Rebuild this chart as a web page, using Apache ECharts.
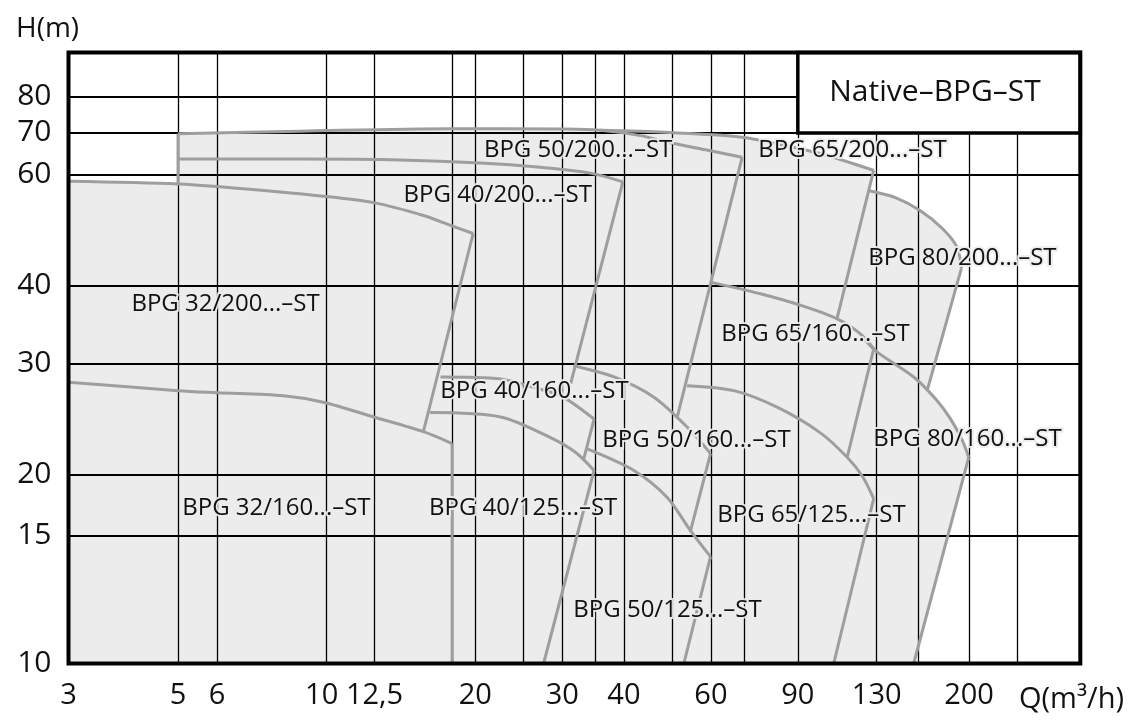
<!DOCTYPE html>
<html lang="de">
<head>
<meta charset="UTF-8">
<title>Native–BPG–ST</title>
<style>
  html, body { margin: 0; background: #fff; }
  #chart { width: 1129px; height: 721px; }
</style>
</head>
<body>
<div id="chart"></div>
<script src="https://cdn.jsdelivr.net/npm/echarts@6/dist/echarts.min.js"></script>
<script>
// both axes are logarithmic: Q in m3/h, H in m
var Q_MIN = 3, Q_MAX = 336, H_MIN = 10, H_MAX = 94;

var xGridValues = [5, 6, 10, 12.5, 18, 20, 25, 30, 35, 40, 50, 60, 70, 90, 130, 158, 200, 250];
var xLabelValues = [3, 5, 6, 10, 12.5, 20, 30, 40, 60, 90, 130, 200];
// the sheet draws its "15" line where 16 m falls on the log scale
var yGridValues = [16, 20, 30, 40, 60, 70, 80];
var yLabelValues = [10, 16, 20, 30, 40, 60, 70, 80];
var yLabelText = { 16: '15' };

// curve outlines [Q, H]
var bpg32_200Top = [[3, 58.6], [5, 58.05], [6, 57.5], [9.84, 55.5], [12.46, 54.2], [15.7, 51.7], [17.9, 49.8], [19.8, 48.4]];
var bpg32_200Right = [[19.8, 48.4], [15.7, 23.4]];
var bpg32_160Top = [[3, 28.05], [5, 27.2], [6, 27.0], [8.18, 26.7], [9.84, 26.07], [12.46, 24.7], [15.7, 23.4], [17.95, 22.4]];
var bpg32_160Right = [[17.95, 22.4], [17.95, 10]];
var bpgQ5Left = [[5, 69.8], [5, 58.05]];
var bpg40_200Top = [[5, 63.6], [8.85, 63.6], [14.1, 63.4], [20.5, 62.7], [27.1, 61.7], [34.2, 60.4], [39.8, 58.5]];
var bpg40_200Right = [[39.8, 58.5], [31.2, 27.9]];
var bpg40_160Top = [[17.0, 28.6], [22.5, 28.4], [25.9, 27.6], [29.75, 26.7], [34.8, 24.5]];
var bpg40_160Right = [[34.8, 24.5], [33.1, 21.05]];
var bpg40_125Top = [[16.2, 25.1], [22.5, 24.7], [28.4, 22.9], [31.9, 21.7], [34.8, 20.3]];
var bpg40_125Right = [[34.8, 20.3], [27.5, 10]];
var bpg50_200Top = [[5, 69.8], [8.85, 70.45], [17.8, 71.1], [29.75, 71.0], [35.8, 70.7], [43.2, 69.3], [49.7, 67.5], [58.5, 65.8], [69.4, 64.0]];
var bpg50_200Right = [[69.4, 64.0], [51.3, 24.7]];
var bpg50_160Top = [[31.6, 29.8], [38.2, 28.6], [46.0, 26.55], [53.7, 23.8], [59.9, 21.6]];
var bpg50_160Right = [[59.9, 21.6], [54.5, 16.2]];
var bpg50_125Top = [[33.7, 21.97], [41.9, 20.3], [48.9, 18.4], [54.5, 16.3], [59.9, 14.8]];
var bpg50_125Right = [[59.9, 14.8], [52.9, 10]];
var bpg65_200Top = [[35.8, 70.7], [43.2, 70.45], [49.5, 70.1], [69.4, 68.9], [88.2, 66.4], [104.8, 64.2], [128.2, 61.0]];
var bpg65_200Right = [[128.2, 61.0], [108.1, 35.5]];
var bpg65_160Top = [[59.9, 40.5], [75.6, 38.8], [91.1, 37.2], [108.1, 35.4], [120.5, 33.5], [129.2, 31.5]];
var bpg65_160Right = [[128.2, 31.7], [113.3, 21.3]];
var bpg65_125Top = [[53.7, 27.7], [66.8, 27.2], [81.7, 25.6], [100.0, 23.3], [113.3, 21.3], [121.7, 19.85], [128.2, 18.3]];
var bpg65_125Right = [[128.2, 18.3], [106.4, 10]];
var bpg80_200Top = [[125.7, 56.6], [141.9, 55.2], [159.1, 52.65], [176.6, 49.3], [189.2, 46.0], [193.0, 42.6]];
var bpg80_200Right = [[193.0, 42.6], [164.5, 27.2]];
var bpg80_160Top = [[120.5, 33.5], [129.2, 31.5], [154.5, 28.6], [171.0, 26.4], [183.3, 24.55], [193.9, 22.65], [199.7, 21.3]];
var bpg80_160Right = [[199.7, 21.3], [154.5, 10]];

var curveLabels = [
    ['BPG 32/200...–ST', 6.24, 37.4],
    ['BPG 40/200...–ST', 22.2, 55.8],
    ['BPG 50/200...–ST', 32.3, 65.6],
    ['BPG 65/200...–ST', 116.1, 65.6],
    ['BPG 80/200...–ST', 193.9, 44.15],
    ['BPG 65/160...–ST', 97.7, 33.5],
    ['BPG 40/160...–ST', 26.35, 27.1],
    ['BPG 50/160...–ST', 56.1, 22.65],
    ['BPG 80/160...–ST', 198.5, 22.8],
    ['BPG 32/160...–ST', 7.91, 17.7],
    ['BPG 40/125...–ST', 25.0, 17.7],
    ['BPG 65/125...–ST', 95.9, 17.2],
    ['BPG 50/125...–ST', 49.0, 12.14]
];
var boxCorner = [90, 70];
var boxTitle = 'Native–BPG–ST';

var curves = [
    bpg32_200Top, bpg32_200Right, bpg32_160Top, bpg32_160Right, bpgQ5Left,
    bpg40_200Top, bpg40_200Right, bpg40_160Top, bpg40_160Right, bpg40_125Top, bpg40_125Right,
    bpg50_200Top, bpg50_200Right, bpg50_160Top, bpg50_160Right, bpg50_125Top, bpg50_125Right,
    bpg65_200Top, bpg65_200Right, bpg65_160Top, bpg65_160Right, bpg65_125Top, bpg65_125Right,
    bpg80_200Top, bpg80_200Right, bpg80_160Top, bpg80_160Right
];

function upTo(line, q) { return line.filter(function (p) { return p[0] <= q; }); }
function after(line, q) { return line.filter(function (p) { return p[0] > q; }); }

// outer edge of the shaded field
var shadedOutline = [[Q_MIN, H_MIN]]
    .concat(upTo(bpg32_200Top, 5))
    .concat(bpg50_200Top.slice(0, 5))
    .concat(bpg65_200Top.slice(1))
    .concat(bpg80_200Top)
    .concat(bpg80_200Right.slice(1))
    .concat(after(bpg80_160Top, bpg80_200Right[1][0]))
    .concat(bpg80_160Right.slice(1));

var FONT = 'Open Sans';
var CURVE_GREY = '#9e9e9e';
var FILL_GREY = '#ececec';

var series = [{
    type: 'custom',
    z: 1,
    silent: true,
    data: [[Q_MIN, H_MIN]],
    renderItem: function (params, api) {
        return {
            type: 'polygon',
            shape: { points: shadedOutline.map(function (p) { return api.coord(p); }) },
            style: { fill: FILL_GREY }
        };
    }
}];

curves.forEach(function (c) {
    series.push({
        type: 'line',
        z: 3,
        silent: true,
        symbol: 'none',
        smooth: 0.3,
        data: c,
        lineStyle: { color: CURVE_GREY, width: 3 }
    });
});

series.push({
    type: 'custom',
    z: 4,
    silent: true,
    data: [boxCorner],
    renderItem: function (params, api) {
        var a = api.coord(boxCorner);
        var b = api.coord([Q_MAX, H_MAX]);
        return {
            type: 'group',
            children: [{
                type: 'rect',
                shape: { x: a[0], y: b[1], width: b[0] - a[0], height: a[1] - b[1] },
                style: { fill: '#fff', stroke: '#000', lineWidth: 3.5 }
            }, {
                type: 'text',
                x: (a[0] + b[0]) / 2 - 4,
                y: (a[1] + b[1]) / 2,
                style: { text: boxTitle, font: '30px "' + FONT + '"', fill: '#111', align: 'center', verticalAlign: 'middle' }
            }]
        };
    }
});

series.push({
    type: 'custom',
    z: 4,
    silent: true,
    data: curveLabels.map(function (l) { return [l[1], l[2]]; }),
    renderItem: function (params, api) {
        var p = api.coord([api.value(0), api.value(1)]);
        var txt = curveLabels[params.dataIndex][0];
        var font = '24px "' + FONT + '"';
        return {
            type: 'group',
            children: [{
                type: 'text', x: p[0], y: p[1],
                style: { text: txt, font: font, fill: 'rgba(236,236,236,0.9)', stroke: 'rgba(236,236,236,0.9)', lineWidth: 4, align: 'center', verticalAlign: 'middle' }
            }, {
                type: 'text', x: p[0], y: p[1],
                style: { text: txt, font: font, fill: '#111', align: 'center', verticalAlign: 'middle' }
            }]
        };
    }
});

var chart = echarts.init(document.getElementById('chart'));
chart.setOption({
    animation: false,
    title: [{
        text: 'H(m)', left: 11, top: 10,
        textStyle: { fontSize: 28, fontWeight: 'normal', fontFamily: FONT, color: '#111' }
    }, {
        text: 'Q(m³/h)', left: 1014, top: 680,
        textStyle: { fontSize: 29, fontWeight: 'normal', fontFamily: FONT, color: '#111' }
    }],
    grid: {
        left: 68.5, right: 48.7, top: 52.5, bottom: 57.5,
        show: true, backgroundColor: 'transparent', borderColor: '#000', borderWidth: 4, z: 5
    },
    xAxis: {
        type: 'log', logBase: 10, min: Q_MIN, max: Q_MAX, z: 2,
        axisLine: { show: false },
        axisTick: { show: false, customValues: xGridValues },
        splitLine: { show: true, lineStyle: { color: '#000', width: 1.3 } },
        axisLabel: {
            customValues: xLabelValues, margin: 18,
            fontSize: 29, fontFamily: FONT, color: '#111',
            // "10" sits a little left of its line on the sheet, leaving a gap before "12,5"
            formatter: function (v) {
                var s = String(v).replace('.', ',');
                return v === 10 ? '{tight|' + s + '}' : s;
            },
            rich: {
                tight: { fontSize: 29, fontFamily: FONT, color: '#111', padding: [0, 10, 0, 0] }
            }
        }
    },
    yAxis: {
        type: 'log', logBase: 10, min: H_MIN, max: H_MAX, z: 2,
        axisLine: { show: false },
        axisTick: { show: false, customValues: yGridValues },
        splitLine: { show: true, lineStyle: { color: '#000', width: 2 } },
        axisLabel: {
            customValues: yLabelValues, margin: 17,
            fontSize: 30, fontFamily: FONT, color: '#111',
            formatter: function (v) { return yLabelText[v] || String(v); }
        }
    },
    series: series
});
</script>
</body>
</html>
